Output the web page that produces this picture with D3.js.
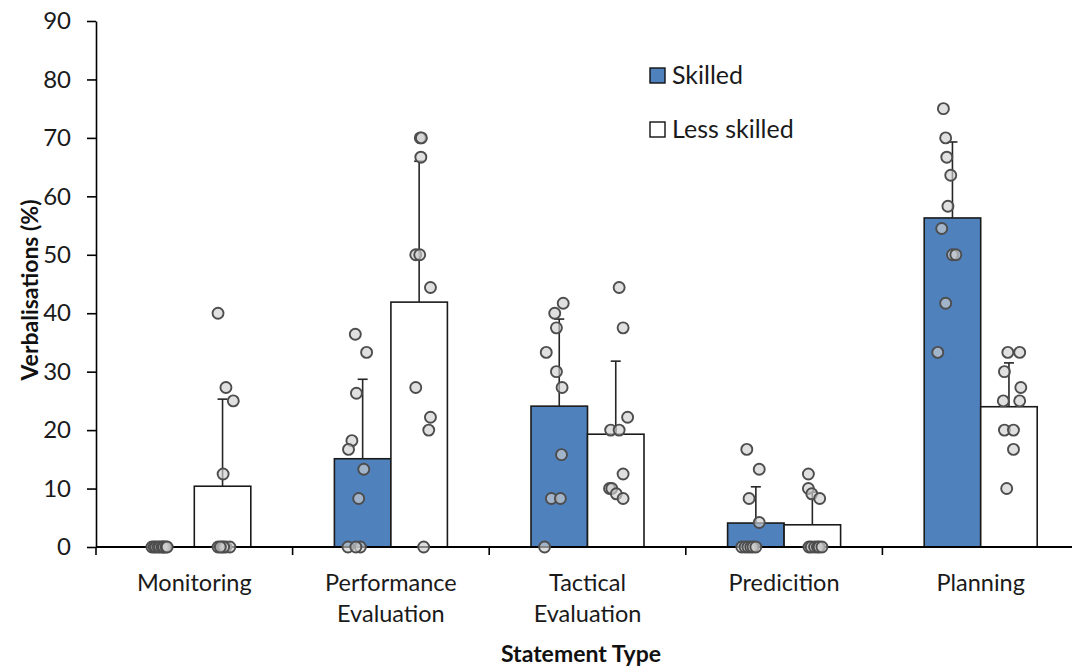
<!DOCTYPE html>
<html>
<head>
<meta charset="utf-8">
<script src="https://cdn.jsdelivr.net/npm/d3@7"></script>
<style>
  body { margin: 0; background: #fff; }
  svg { display: block; font-family: Lato, "Open Sans", sans-serif; }
</style>
</head>
<body>
<div id="chart"></div>
<script>
// chart data
var categories = ["Monitoring", "Performance Evaluation", "Tactical Evaluation", "Predicition", "Planning"];
var catLines = [["Monitoring"], ["Performance", "Evaluation"], ["Tactical", "Evaluation"], ["Predicition"], ["Planning"]];
var series = ["Skilled", "Less skilled"];
var skilledMean = [0, 15.1, 24.1, 4.1, 56.3];
var lessMean = [10.4, 41.9, 19.3, 3.8, 24.0];
var skilledSD = [0, 13.6, 14.9, 6.2, 13.0];
var lessSD = [14.9, 24.1, 12.5, 5.6, 7.5];
var yTicks = [0, 10, 20, 30, 40, 50, 60, 70, 80, 90];

// individual participants (value, and sideways jitter as a fraction of bar width)
var skilledPoints = [
    [0, 0, 0, 0, 0, 0, 0, 0, 0, 0],
    [36.4, 33.3, 26.3, 18.2, 16.7, 13.3, 8.3, 0, 0, 0],
    [41.7, 40, 37.5, 33.3, 30, 27.3, 15.8, 8.3, 8.3, 0],
    [16.7, 13.3, 8.3, 4.2, 0, 0, 0, 0, 0, 0],
    [75, 70, 66.7, 63.6, 58.3, 54.5, 50, 50, 41.7, 33.3]
];
var skilledJitter = [
    [-0.25, -0.21, -0.18, -0.14, -0.11, -0.07, -0.05, -0.04, 0, 0.02],
    [-0.13, 0.07, -0.11, -0.19, -0.25, 0.02, -0.07, -0.26, -0.04, -0.12],
    [0.07, -0.08, -0.05, -0.23, -0.05, 0.05, 0.04, -0.14, 0.02, -0.26],
    [-0.16, 0.06, -0.12, 0.06, -0.25, -0.19, -0.14, -0.09, -0.05, 0],
    [-0.16, -0.12, -0.1, -0.03, -0.08, -0.19, 0, 0.06, -0.12, -0.26]
];
var lessPoints = [
    [40, 27.3, 25, 12.5, 0, 0, 0, 0, 0, 0],
    [70, 70, 66.7, 50, 50, 44.4, 27.3, 22.2, 20, 0],
    [44.4, 37.5, 22.2, 20, 20, 12.5, 10, 10, 9.1, 8.3],
    [12.5, 10, 9.1, 8.3, 0, 0, 0, 0, 0, 0],
    [33.3, 33.3, 30, 27.3, 25, 25, 20, 20, 16.7, 10]
];
var lessJitter = [
    [-0.08, 0.06, 0.19, 0.01, -0.08, -0.01, 0.06, 0.13, 0.02, -0.04],
    [0.02, 0.04, 0.03, -0.06, 0.01, 0.2, -0.06, 0.2, 0.17, 0.08],
    [0.06, 0.13, 0.21, -0.09, 0.06, 0.13, -0.11, -0.07, 0.01, 0.13],
    [-0.07, -0.07, -0.01, 0.13, -0.06, -0.02, 0.04, 0.09, 0.12, 0.17],
    [-0.02, 0.19, -0.08, 0.21, -0.1, 0.19, -0.08, 0.08, 0.08, -0.04]
];

var width = 1072, height = 668;
var margin = { top: 21, left: 96, bottom: 121 };
var plotBottom = height - margin.bottom;

var fillColors = { "Skilled": "#4f81bd", "Less skilled": "#ffffff" };

var svg = d3.select("#chart").append("svg")
    .attr("width", width)
    .attr("height", height);

var y = d3.scaleLinear().domain([0, 90]).range([plotBottom, margin.top]);
var x0 = d3.scaleBand().domain(categories).range([margin.left, 1079]).padding(0);
var barW = 56.5;
var x1 = d3.scaleBand().domain(series)
    .range([x0.bandwidth() / 2 - barW, x0.bandwidth() / 2 + barW]).padding(0);

var groups = categories.map(function (c, i) {
    return [
        { cat: c, s: "Skilled", mean: skilledMean[i], sd: skilledSD[i], pts: skilledPoints[i], jit: skilledJitter[i] },
        { cat: c, s: "Less skilled", mean: lessMean[i], sd: lessSD[i], pts: lessPoints[i], jit: lessJitter[i] }
    ];
});
var flat = [].concat.apply([], groups);

function barX(d) { return x0(d.cat) + x1(d.s); }
function barMid(d) { return barX(d) + x1.bandwidth() / 2; }

// bars
svg.append("g").selectAll("rect")
    .data(flat.filter(function (d) { return d.mean > 0; }))
    .enter().append("rect")
    .attr("x", barX)
    .attr("y", function (d) { return y(d.mean); })
    .attr("width", x1.bandwidth())
    .attr("height", function (d) { return y(0) - y(d.mean); })
    .attr("fill", function (d) { return fillColors[d.s]; })
    .attr("stroke", "#1a1a1a")
    .attr("stroke-width", 1.6);

// upper error bars
var err = svg.append("g").selectAll("g")
    .data(flat.filter(function (d) { return d.sd > 0; }))
    .enter().append("g")
    .attr("stroke", "#262626")
    .attr("stroke-width", 1.6);
err.append("line")
    .attr("x1", barMid).attr("x2", barMid)
    .attr("y1", function (d) { return y(d.mean); })
    .attr("y2", function (d) { return y(d.mean + d.sd); });
err.append("line")
    .attr("x1", function (d) { return barMid(d) - 5; })
    .attr("x2", function (d) { return barMid(d) + 5; })
    .attr("y1", function (d) { return y(d.mean + d.sd); })
    .attr("y2", function (d) { return y(d.mean + d.sd); });

// axes
var yAxis = d3.axisLeft(y).tickValues(yTicks).tickSize(9).tickSizeOuter(0).tickPadding(16);
var gy = svg.append("g")
    .attr("transform", "translate(" + margin.left + ",0)")
    .call(yAxis);
gy.selectAll("line, path").attr("stroke", "#000").attr("stroke-width", 1.6);
gy.selectAll("text").attr("font-size", 24).attr("fill", "#1a1a1a").attr("font-family", "Lato, sans-serif");

var gx = svg.append("g").attr("transform", "translate(0," + plotBottom + ")");
gx.append("line")
    .attr("x1", margin.left).attr("x2", x0.range()[1])
    .attr("stroke", "#000").attr("stroke-width", 1.8);
var bounds = categories.map(function (c) { return x0(c); }).concat([x0.range()[1]]);
gx.selectAll(".xt").data(bounds).enter().append("line")
    .attr("class", "xt")
    .attr("x1", function (d) { return d; }).attr("x2", function (d) { return d; })
    .attr("y1", 0).attr("y2", 8)
    .attr("stroke", "#000").attr("stroke-width", 1.6);

var xl = gx.selectAll(".xl").data(categories).enter().append("text")
    .attr("class", "xl")
    .attr("text-anchor", "middle")
    .attr("font-size", 23.5)
    .attr("fill", "#1a1a1a");
xl.each(function (c, i) {
    var t = d3.select(this);
    catLines[i].forEach(function (line, k) {
        t.append("tspan")
            .attr("x", x0(c) + x0.bandwidth() / 2)
            .attr("y", 44 + k * 31)
            .text(line);
    });
});

// dots
svg.append("g").selectAll("g")
    .data(flat)
    .enter().append("g")
    .each(function (d) {
        d3.select(this).selectAll("circle")
            .data(d.pts.map(function (v, k) { return { v: v, j: d.jit[k] }; }))
            .enter().append("circle")
            .attr("cx", function (p) { return barMid(d) + p.j * x1.bandwidth(); })
            .attr("cy", function (p) { return y(p.v); })
            .attr("r", 5.5)
            .attr("fill", "#d0d0d0")
            .attr("fill-opacity", 0.65)
            .attr("stroke", "#4d4d4d")
            .attr("stroke-width", 1.9);
    });

// axis titles
svg.append("text")
    .attr("transform", "translate(38," + (y(45) + 6) + ") rotate(-90)")
    .attr("text-anchor", "middle")
    .attr("font-size", 23)
    .attr("font-weight", "bold")
    .attr("fill", "#111")
    .text("Verbalisations (%)");

svg.append("text")
    .attr("x", 581)
    .attr("y", 662)
    .attr("text-anchor", "middle")
    .attr("font-size", 23)
    .attr("font-weight", "bold")
    .attr("fill", "#111")
    .text("Statement Type");

// legend
var legend = svg.append("g").attr("transform", "translate(650,68)");
series.forEach(function (s, i) {
    var row = legend.append("g").attr("transform", "translate(0," + (i * 54) + ")");
    row.append("rect")
        .attr("width", 15).attr("height", 15)
        .attr("fill", fillColors[s])
        .attr("stroke", "#111").attr("stroke-width", 1.4);
    row.append("text")
        .attr("x", 22).attr("y", 16)
        .attr("font-size", 25)
        .attr("fill", "#1a1a1a")
        .text(s);
});
</script>
</body>
</html>
